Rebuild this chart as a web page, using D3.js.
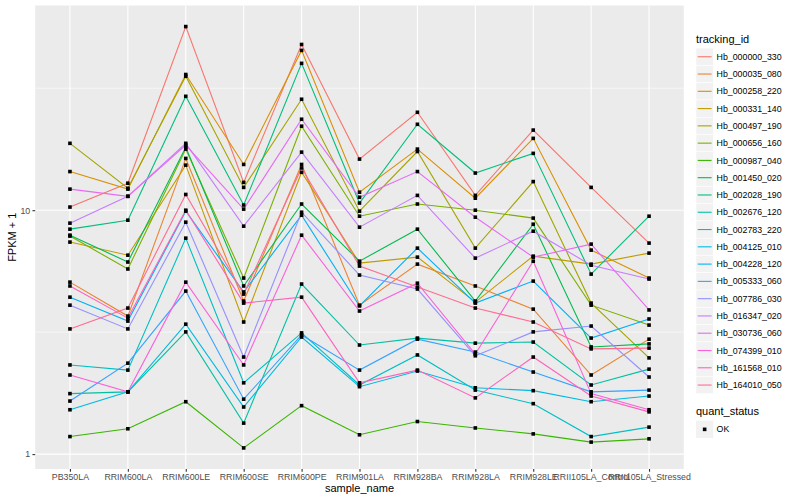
<!DOCTYPE html>
<html>
<head>
<meta charset="utf-8">
<script src="https://cdn.jsdelivr.net/npm/d3@7"></script>
<style>
    body { margin: 0; background: #ffffff; }
    text { font-family: "Liberation Sans", Arial, Helvetica, sans-serif; }
</style>
</head>
<body>
<svg id="chart" width="800" height="500"></svg>
<script>
// x categories (sample_name)
const sampleNames = ["PB350LA", "RRIM600LA", "RRIM600LE", "RRIM600SE", "RRIM600PE", "RRIM901LA",
                     "RRIM928BA", "RRIM928LA", "RRIM928LE", "RRII105LA_Control", "RRII105LA_Stressed"];

const trackingIds = ["Hb_000000_330", "Hb_000035_080", "Hb_000258_220", "Hb_000331_140", "Hb_000497_190",
                     "Hb_000656_160", "Hb_000987_040", "Hb_001450_020", "Hb_002028_190", "Hb_002676_120",
                     "Hb_002783_220", "Hb_004125_010", "Hb_004228_120", "Hb_005333_060", "Hb_007786_030",
                     "Hb_016347_020", "Hb_030736_060", "Hb_074399_010", "Hb_161568_010", "Hb_164010_050"];

// FPKM + 1 per gene, one value per sample
const Hb_000000_330 = [10.3, 12.9, 56.6, 13.0, 47.8, 16.2, 25.2, 11.5, 21.3, 12.4, 7.33];
const Hb_000035_080 = [5.07, 3.68, 16.3, 4.24, 15.4, 4.08, 6.01, 4.89, 3.93, 2.11, 2.96];
const Hb_000258_220 = [14.4, 12.2, 36.0, 15.4, 45.2, 11.85, 17.8, 11.2, 19.7, 6.86, 5.27];
const Hb_000331_140 = [7.40, 6.54, 15.3, 3.48, 14.3, 6.07, 6.42, 4.20, 6.48, 6.01, 6.67];
const Hb_000497_190 = [18.8, 12.3, 35.4, 12.4, 28.5, 9.91, 17.4, 6.99, 13.1, 4.16, 2.48];
const Hb_000656_160 = [7.83, 5.74, 17.8, 5.27, 22.1, 9.45, 10.6, 10.0, 9.28, 4.08, 3.38];
const Hb_000987_040 = [1.18, 1.27, 1.64, 1.06, 1.58, 1.20, 1.36, 1.28, 1.21, 1.12, 1.155];
const Hb_001450_020 = [7.90, 6.13, 18.1, 4.89, 10.6, 6.18, 8.36, 4.24, 8.76, 2.75, 2.83];
const Hb_002028_190 = [8.36, 9.10, 29.3, 10.5, 40.0, 10.7, 22.5, 14.2, 17.1, 5.47, 9.45];
const Hb_002676_120 = [1.77, 1.80, 3.17, 1.34, 4.98, 2.80, 2.99, 2.85, 2.88, 1.92, 2.23];
const Hb_002783_220 = [2.32, 2.21, 7.68, 1.96, 3.14, 1.92, 2.55, 1.83, 1.61, 1.18, 1.29];
const Hb_004125_010 = [1.52, 1.80, 3.41, 1.56, 3.02, 1.89, 2.19, 1.87, 1.82, 1.64, 1.73];
const Hb_004228_120 = [4.40, 3.51, 9.91, 4.62, 9.54, 4.05, 6.99, 4.16, 5.12, 2.99, 3.58];
const Hb_005333_060 = [1.65, 2.36, 4.66, 1.68, 3.08, 2.21, 2.96, 2.62, 2.17, 1.80, 1.83];
const Hb_007786_030 = [4.08, 3.26, 8.93, 2.50, 9.81, 5.42, 4.75, 2.53, 3.17, 3.35, 2.07];
const Hb_016347_020 = [8.85, 11.4, 18.8, 8.60, 17.3, 8.52, 11.5, 6.36, 8.20, 5.95, 5.22];
const Hb_030736_060 = [12.2, 11.4, 18.5, 10.1, 23.6, 11.3, 14.4, 9.36, 6.42, 7.26, 3.90];
const Hb_074399_010 = [2.11, 1.80, 5.07, 2.32, 7.90, 3.86, 5.02, 2.57, 6.18, 1.77, 1.52];
const Hb_161568_010 = [4.89, 3.61, 10.0, 4.16, 4.40, 1.96, 2.21, 1.70, 2.50, 1.73, 1.49];
const Hb_164010_050 = [3.26, 3.97, 11.6, 4.53, 14.9, 5.90, 4.84, 3.97, 3.48, 2.70, 2.72];

const fpkmValues = [Hb_000000_330, Hb_000035_080, Hb_000258_220, Hb_000331_140, Hb_000497_190,
                    Hb_000656_160, Hb_000987_040, Hb_001450_020, Hb_002028_190, Hb_002676_120,
                    Hb_002783_220, Hb_004125_010, Hb_004228_120, Hb_005333_060, Hb_007786_030,
                    Hb_016347_020, Hb_030736_060, Hb_074399_010, Hb_161568_010, Hb_164010_050];

const quantStatus = ["OK"];
const yTickValues = [1, 10];

// ggplot default hue palette for 20 levels
const huePalette = ["#F8766D", "#EA8331", "#D89000", "#C09B00", "#A3A500", "#7CAE00", "#39B600",
                    "#00BB4E", "#00BF7D", "#00C1A3", "#00BFC4", "#00BAE0", "#00B0F6", "#35A2FF",
                    "#9590FF", "#C77CFF", "#E76BF3", "#FA62DB", "#FF62BC", "#FF6C91"];

/**
 * ggplot-like line plot with log y axis
 */
class LinePlot {

    constructor(svg) {
        this._svg = svg;
        this.panel = {left: 35.2, right: 683.8, top: 5.5, bottom: 469};
        this.legendX = 696;
        this.keySize = 17.28;

        this.series = trackingIds.map((id, i) => ({
            id: id,
            color: huePalette[i],
            values: fpkmValues[i].map((v, j) => ({sample: sampleNames[j], value: v}))
        }));

        this.xScale = d3.scalePoint()
            .domain(sampleNames)
            .range([this.panel.left, this.panel.right])
            .padding(0.6);

        // continuous expansion of 5% on the log10 range
        let all = fpkmValues.flat();
        let lo = Math.log10(d3.min(all));
        let hi = Math.log10(d3.max(all));
        let pad = (hi - lo) * 0.05;
        this.yScale = d3.scaleLog()
            .domain([Math.pow(10, lo - pad), Math.pow(10, hi + pad)])
            .range([this.panel.bottom, this.panel.top]);
    }

    draw() {
        let p = this.panel;
        let fx = this.xScale;
        let fy = this.yScale;

        this._svg.append("rect")
            .attr("width", 800).attr("height", 500)
            .attr("fill", "#ffffff");

        this._svg.append("rect")
            .attr("x", p.left).attr("y", p.top)
            .attr("width", p.right - p.left).attr("height", p.bottom - p.top)
            .attr("fill", "#EBEBEB");

        // grid: minor lines halfway between decades, then major
        let grid = this._svg.append("g");
        let [d0, d1] = fy.domain().map(Math.log10);
        let minor = d3.range(Math.floor(d0) + 0.5, d1, 1).map(e => Math.pow(10, e)).filter(v => v >= fy.domain()[0]);
        grid.selectAll("line.minor").data(minor).enter()
            .append("line")
                .attr("class", "minor")
                .attr("x1", p.left).attr("x2", p.right)
                .attr("y1", d => fy(d)).attr("y2", d => fy(d))
                .attr("stroke", "#ffffff").attr("stroke-width", 0.55);
        grid.selectAll("line.majory").data(yTickValues).enter()
            .append("line")
                .attr("class", "majory")
                .attr("x1", p.left).attr("x2", p.right)
                .attr("y1", d => fy(d)).attr("y2", d => fy(d))
                .attr("stroke", "#ffffff").attr("stroke-width", 1.1);
        grid.selectAll("line.majorx").data(sampleNames).enter()
            .append("line")
                .attr("class", "majorx")
                .attr("x1", d => fx(d)).attr("x2", d => fx(d))
                .attr("y1", p.top).attr("y2", p.bottom)
                .attr("stroke", "#ffffff").attr("stroke-width", 1.1);

        // lines per tracking_id
        let line = d3.line()
            .x(d => fx(d.sample))
            .y(d => fy(d.value));
        this._svg.append("g").selectAll("path").data(this.series).enter()
            .append("path")
                .attr("d", d => line(d.values))
                .attr("fill", "none")
                .attr("stroke", d => d.color)
                .attr("stroke-width", 1.1);

        // square points (quant_status = OK)
        let s = 3.6;
        this._svg.append("g").selectAll("rect")
            .data(this.series.flatMap(d => d.values)).enter()
            .append("rect")
                .attr("x", d => fx(d.sample) - s / 2)
                .attr("y", d => fy(d.value) - s / 2)
                .attr("width", s).attr("height", s)
                .attr("fill", "#000000");

        this.drawAxes();
        this.drawLegend();
    }

    drawAxes() {
        let p = this.panel;

        let xAxis = d3.axisBottom(this.xScale).tickSize(2.74).tickPadding(2.2);
        let yAxis = d3.axisLeft(this.yScale)
            .tickValues(yTickValues)
            .tickFormat(d3.format("d"))
            .tickSize(2.74).tickPadding(2.2);

        let gx = this._svg.append("g")
            .attr("transform", "translate(0," + p.bottom + ")")
            .call(xAxis);
        let gy = this._svg.append("g")
            .attr("transform", "translate(" + p.left + ",0)")
            .call(yAxis);

        for (let g of [gx, gy]) {
            g.select(".domain").remove();
            g.selectAll(".tick line").attr("stroke", "#333333").attr("stroke-width", 1.1);
            g.selectAll(".tick text")
                .attr("fill", "#4D4D4D")
                .style("font-size", "8.8px")
                .style("font-family", "'Liberation Sans', Arial, sans-serif");
        }

        this._svg.append("text")
            .attr("x", (p.left + p.right) / 2)
            .attr("y", 491.5)
            .style("text-anchor", "middle")
            .style("font-size", "11px")
            .text("sample_name");

        this._svg.append("text")
            .attr("transform", "translate(16," + ((p.top + p.bottom) / 2) + ") rotate(-90)")
            .style("text-anchor", "middle")
            .style("font-size", "11px")
            .text("FPKM + 1");
    }

    drawLegend() {
        let x0 = this.legendX;
        let k = this.keySize;
        let top = 48.1;

        let legend = this._svg.append("g");
        legend.append("text")
            .attr("x", x0).attr("y", 43)
            .style("font-size", "11px")
            .text("tracking_id");

        let keys = legend.selectAll("g.key").data(this.series).enter()
            .append("g")
                .attr("class", "key")
                .attr("transform", (d, i) => "translate(" + x0 + "," + (top + i * k) + ")");
        keys.append("rect")
            .attr("width", k).attr("height", k)
            .attr("fill", "#F2F2F2")
            .attr("stroke", "#ffffff").attr("stroke-width", 0.5);
        keys.append("line")
            .attr("x1", 1.7).attr("x2", k - 1.7)
            .attr("y1", k / 2).attr("y2", k / 2)
            .attr("stroke", d => d.color).attr("stroke-width", 1.1);
        keys.append("text")
            .attr("x", k + 3.3).attr("y", k / 2 + 3.1)
            .style("font-size", "8.8px")
            .text(d => d.id);

        // quant_status legend
        let qTop = 420.7;
        legend.append("text")
            .attr("x", x0).attr("y", 414.5)
            .style("font-size", "11px")
            .text("quant_status");
        let q = legend.selectAll("g.qkey").data(quantStatus).enter()
            .append("g")
                .attr("class", "qkey")
                .attr("transform", (d, i) => "translate(" + x0 + "," + (qTop + i * k) + ")");
        q.append("rect")
            .attr("width", k).attr("height", k)
            .attr("fill", "#F2F2F2");
        q.append("rect")
            .attr("x", k / 2 - 1.8).attr("y", k / 2 - 1.8)
            .attr("width", 3.6).attr("height", 3.6)
            .attr("fill", "#000000");
        q.append("text")
            .attr("x", k + 3.3).attr("y", k / 2 + 3.1)
            .style("font-size", "8.8px")
            .text(d => d);
    }
}

let plot = new LinePlot(d3.select("#chart"));
plot.draw();
</script>
</body>
</html>
